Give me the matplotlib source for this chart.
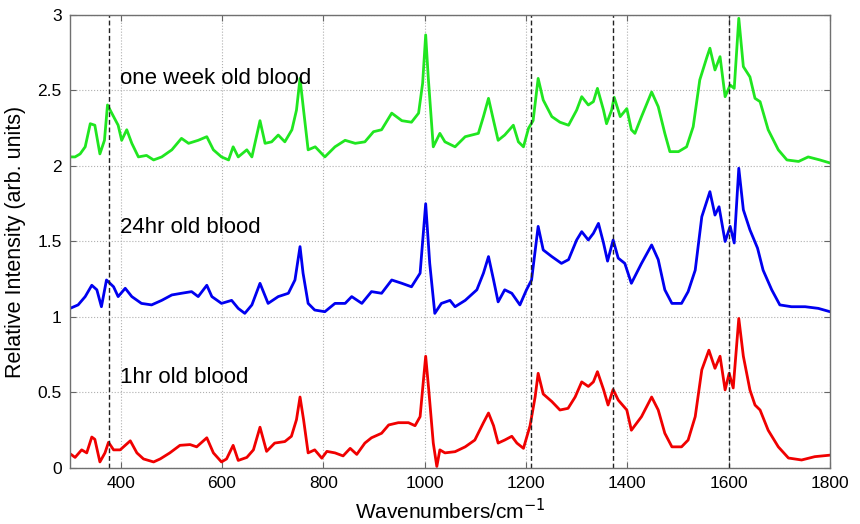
import matplotlib
matplotlib.use("Agg")
import matplotlib.pyplot as plt

plt.rcParams['font.family'] = ['Liberation Sans', 'DejaVu Sans']

# 1hr old blood (red)
wn_1hr = [300, 310, 323, 333, 343, 349, 359, 369, 376, 386, 399, 419, 432, 445, 465, 478, 497, 517, 537, 550,
          570, 583, 599, 609, 622, 632, 649, 662, 675, 688, 704, 724, 737, 747, 754, 761, 770, 783, 797, 807,
          823, 839, 853, 866, 882, 895, 915, 929, 948, 968, 981, 991, 997, 1002, 1008, 1017, 1024, 1030, 1040,
          1060, 1080, 1099, 1116, 1126, 1136, 1145, 1158, 1172, 1182, 1195, 1208, 1218, 1224, 1234, 1251, 1267,
          1283, 1297, 1310, 1323, 1333, 1341, 1353, 1362, 1372, 1382, 1399, 1408, 1428, 1448, 1461, 1474, 1488,
          1507, 1520, 1534, 1547, 1561, 1573, 1583, 1593, 1601, 1609, 1620, 1629, 1642, 1652, 1662, 1678, 1698,
          1718, 1744, 1770, 1800]
int_1hr = [0.095, 0.07, 0.12, 0.10, 0.205, 0.19, 0.04, 0.10, 0.17, 0.12, 0.12, 0.18, 0.10, 0.06, 0.04, 0.06, 0.10,
           0.15, 0.155, 0.14, 0.20, 0.10, 0.04, 0.06, 0.15, 0.05, 0.07, 0.12, 0.27, 0.11, 0.165, 0.175, 0.21, 0.32,
           0.47, 0.32, 0.10, 0.12, 0.065, 0.11, 0.10, 0.08, 0.13, 0.09, 0.165, 0.20, 0.23, 0.285, 0.30, 0.30, 0.28,
           0.34, 0.56, 0.74, 0.52, 0.165, 0.01, 0.12, 0.10, 0.108, 0.14, 0.185, 0.30, 0.364, 0.28, 0.165, 0.185,
           0.21, 0.165, 0.13, 0.28, 0.47, 0.627, 0.49, 0.44, 0.384, 0.395, 0.47, 0.57, 0.54, 0.57, 0.638, 0.52,
           0.417, 0.52, 0.45, 0.384, 0.25, 0.34, 0.47, 0.384, 0.23, 0.14, 0.14, 0.185, 0.34, 0.65, 0.78, 0.66,
           0.74, 0.517, 0.627, 0.53, 0.99, 0.74, 0.517, 0.417, 0.384, 0.25, 0.14, 0.066, 0.053, 0.075, 0.085]

# 24hr old blood (blue)
wn_24hr = [300, 316, 330, 343, 353, 362, 372, 386, 395, 409, 422, 441, 461, 481, 501, 520, 540, 553, 570, 580,
           599, 619, 632, 645, 659, 675, 691, 711, 731, 744, 754, 760, 770, 783, 803, 823, 843, 856, 876, 895,
           915, 935, 955, 974, 991, 1002, 1010, 1020, 1033, 1050, 1060, 1080, 1103, 1116, 1126, 1136, 1145, 1158,
           1172, 1188, 1201, 1211, 1224, 1234, 1251, 1270, 1284, 1300, 1310, 1323, 1333, 1343, 1353, 1361, 1372,
           1382, 1395, 1408, 1428, 1448, 1461, 1474, 1488, 1507, 1520, 1534, 1547, 1563, 1573, 1581, 1593, 1603,
           1611, 1620, 1629, 1642, 1657, 1668, 1685, 1701, 1724, 1751, 1777, 1800]
int_24hr = [1.057, 1.08, 1.135, 1.21, 1.18, 1.068, 1.245, 1.20, 1.135, 1.19, 1.135, 1.09, 1.08, 1.11, 1.146, 1.157,
            1.168, 1.135, 1.21, 1.135, 1.09, 1.11, 1.057, 1.024, 1.08, 1.223, 1.09, 1.135, 1.157, 1.245, 1.466,
            1.29, 1.09, 1.046, 1.035, 1.09, 1.09, 1.135, 1.09, 1.168, 1.157, 1.245, 1.223, 1.20, 1.29, 1.75, 1.355,
            1.024, 1.09, 1.11, 1.068, 1.11, 1.18, 1.29, 1.40, 1.245, 1.10, 1.18, 1.157, 1.08, 1.18, 1.245, 1.60,
            1.444, 1.40, 1.355, 1.38, 1.51, 1.565, 1.51, 1.554, 1.62, 1.49, 1.37, 1.51, 1.39, 1.355, 1.223, 1.355,
            1.477, 1.38, 1.18, 1.09, 1.09, 1.168, 1.31, 1.664, 1.83, 1.675, 1.73, 1.50, 1.60, 1.49, 1.985, 1.71,
            1.577, 1.456, 1.31, 1.18, 1.08, 1.068, 1.068, 1.057, 1.035]

# one week old blood (green)
wn_week = [300, 310, 320, 330, 340, 349, 359, 368, 374, 386, 395, 402, 412, 422, 435, 451, 465, 481, 501, 520,
           534, 553, 570, 583, 599, 613, 622, 632, 649, 659, 675, 685, 698, 711, 724, 738, 747, 754, 761, 770,
           784, 803, 823, 843, 863, 882, 899, 915, 935, 955, 974, 988, 996, 1002, 1007, 1017, 1030, 1040, 1060,
           1080, 1106, 1116, 1126, 1136, 1145, 1158, 1175, 1185, 1195, 1205, 1214, 1224, 1234, 1251, 1267, 1284,
           1300, 1310, 1323, 1333, 1341, 1353, 1359, 1369, 1374, 1386, 1399, 1408, 1415, 1428, 1448, 1461, 1474,
           1484, 1501, 1517, 1530, 1543, 1557, 1563, 1573, 1583, 1593, 1603, 1611, 1620, 1629, 1642, 1652, 1662,
           1678, 1698, 1715, 1738, 1757, 1780, 1800]
int_week = [2.06, 2.06, 2.08, 2.127, 2.28, 2.27, 2.08, 2.17, 2.404, 2.327, 2.27, 2.17, 2.24, 2.15, 2.06, 2.07,
            2.04, 2.06, 2.107, 2.183, 2.15, 2.17, 2.194, 2.107, 2.06, 2.04, 2.127, 2.06, 2.107, 2.06, 2.30, 2.15,
            2.16, 2.205, 2.16, 2.24, 2.37, 2.58, 2.37, 2.107, 2.127, 2.06, 2.127, 2.17, 2.15, 2.16, 2.227, 2.24,
            2.35, 2.30, 2.29, 2.35, 2.548, 2.868, 2.59, 2.127, 2.216, 2.16, 2.127, 2.194, 2.216, 2.327, 2.448,
            2.30, 2.17, 2.205, 2.27, 2.16, 2.127, 2.25, 2.30, 2.58, 2.437, 2.327, 2.29, 2.27, 2.37, 2.459, 2.404,
            2.426, 2.514, 2.37, 2.28, 2.37, 2.455, 2.327, 2.38, 2.24, 2.216, 2.327, 2.49, 2.393, 2.216, 2.095,
            2.095, 2.127, 2.26, 2.57, 2.72, 2.78, 2.636, 2.724, 2.459, 2.536, 2.514, 2.978, 2.658, 2.59, 2.448,
            2.426, 2.24, 2.107, 2.04, 2.03, 2.06, 2.04, 2.02]

# vertical marker lines and labels
marker_lines = [376, 1210, 1371, 1601]
labels = ['1hr old blood', '24hr old blood', 'one week old blood']
label_y = [0.598, 1.593, 2.578]

fig = plt.figure(figsize=(8.6, 5.24), dpi=100)
ax = fig.add_axes([0.0814, 0.1069, 0.8837, 0.8645])

ax.plot(wn_1hr, int_1hr, color='#f00000', lw=2.0)
ax.plot(wn_24hr, int_24hr, color='#0000f0', lw=2.0)
ax.plot(wn_week, int_week, color='#20e620', lw=2.0)

for xv in marker_lines:
    ax.axvline(xv, color='#222222', ls=(0, (3.5, 2)), lw=1.0)

for txt, yv in zip(labels, label_y):
    ax.text(398, yv, txt, fontsize=16, va='center', ha='left')

ax.set_xlim(300, 1800)
ax.set_ylim(0, 3)
ax.set_xticks([400, 600, 800, 1000, 1200, 1400, 1600, 1800])
ax.set_yticks([0, 0.5, 1, 1.5, 2, 2.5, 3])
ax.set_yticklabels(['0', '0.5', '1', '1.5', '2', '2.5', '3'])
ax.grid(True, ls=':', color='#b0b0b0', lw=0.8)
ax.tick_params(direction='in', top=True, right=True, length=4, labelsize=12.5, color='#666666', pad=6)
for s in ax.spines.values():
    s.set_color('#707070')
    s.set_linewidth(1.0)

ax.set_xlabel('Wavenumbers/cm$^{-1}$', fontsize=15, labelpad=5)
ax.set_ylabel('Relative Intensity (arb. units)', fontsize=15.5, labelpad=8)

plt.savefig('out.png', dpi=100)
